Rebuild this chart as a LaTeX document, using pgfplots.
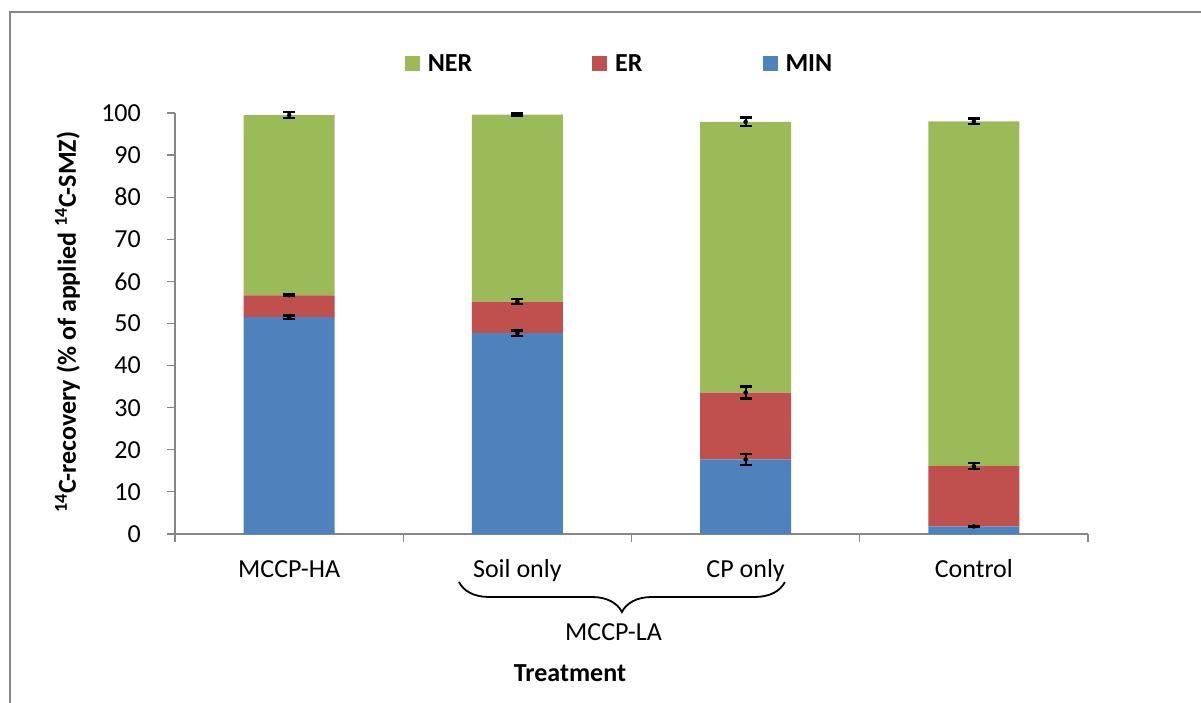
\documentclass[border=0pt]{standalone}
\usepackage{pgfplots}
\pgfplotsset{compat=1.18}
\usepackage{fontspec}
\setmainfont{Carlito}
\usetikzlibrary{decorations.pathreplacing}
\definecolor{ner}{HTML}{9BBB59}
\definecolor{er}{HTML}{C0504D}
\definecolor{minc}{HTML}{4F81BD}
\definecolor{axgray}{HTML}{868686}
\newcommand\fs{\fontsize{26bp}{31bp}\selectfont}
\begin{document}
\begin{tikzpicture}
\useasboundingbox (0bp,0bp) rectangle (1201bp,703bp);
\draw[axgray, line width=1.6bp] (10bp,-10bp) -- (10bp,691bp) -- (1215bp,691bp);
\pgfplotsset{common/.style={
  scale only axis, width=913bp, height=421bp,
  at={(175bp,169bp)}, anchor=south west,
  xmin=-0.5, xmax=3.5, ymin=0, ymax=100, clip=false,
}}
\begin{axis}[common,
  ybar stacked, bar width=91bp,
  axis x line*=bottom, axis y line*=left,
  axis line style={axgray, line width=1.2bp},
  tick style={axgray, line width=1.2bp},
  tick align=outside, major tick length=8bp, minor tick length=8bp,
  ytick={0,10,...,100},
  xtick={0,1,2,3},
  xticklabels={MCCP-HA, Soil only, CP only, Control},
  major x tick style={draw=none},
  minor xtick={-0.5,0.5,1.5,2.5,3.5},
  ticklabel style={font=\fs},
  /pgf/number format/assume math mode=true,
  yticklabel style={anchor=east, inner sep=0pt, xshift=-26bp},
  xticklabel style={anchor=base, inner sep=0pt, yshift=-35bp},
  ylabel={\textbf{\textsuperscript{14}C-recovery (\% of applied \textsuperscript{14}C-SMZ)}},
  ylabel style={font=\fs, at={(axis description cs:-0.1177,0.5036)}, anchor=center},
  xlabel={\textbf{Treatment}},
  xlabel style={font=\fs, at={(axis description cs:0.4326,-0.3508)}, anchor=base, inner sep=0pt},
  legend style={at={(axis description cs:0.4869,1.1164)}, anchor=center, draw=none, fill=none,
    font=\fs\bfseries, legend columns=3,
    /tikz/every even column/.append style={column sep=118bp}},
  legend cell align=left,
  reverse legend,
  legend image code/.code={\path[#1, draw=none] (0bp,-7.5bp) rectangle (15bp,7.5bp);},
]
\addplot[fill=minc, draw=none] coordinates {(0,51.5) (1,47.7) (2,17.7) (3,1.8)};
\addlegendentry{\hspace{6bp}MIN}
\addplot[fill=er, draw=none] coordinates {(0,5.2) (1,7.5) (2,15.9) (3,14.3)};
\addlegendentry{\hspace{6bp}ER}
\addplot[fill=ner, draw=none] coordinates {(0,42.8) (1,44.4) (2,64.3) (3,81.9)};
\addlegendentry{\hspace{6bp}NER}
\node[font=\fs, anchor=base, inner sep=0pt] at (axis description cs:0.4803,-0.2518) {MCCP-LA};
\draw[decorate, decoration={brace, mirror, amplitude=30bp}, line width=1.8bp]
  (axis description cs:0.311,-0.114) -- (axis description cs:0.668,-0.114);
\end{axis}
\begin{axis}[common, hide axis]
\addplot[only marks, mark=none, forget plot,
  error bars/.cd, y dir=both, y explicit,
  error bar style={black, line width=1.8bp},
  error mark options={black, rotate=90, mark size=6bp, line width=2.4bp}]
  coordinates {
  (0,51.5) +- (0,0.4) (0,56.7) +- (0,0.2) (0,99.5) +- (0,0.7)
  (1,47.7) +- (0,0.65) (1,55.2) +- (0,0.6) (1,99.6) +- (0,0.3)
  (2,17.7) +- (0,1.3) (2,33.6) +- (0,1.4) (2,97.9) +- (0,1.0)
  (3,1.8) +- (0,0.1) (3,16.1) +- (0,0.7) (3,98.0) +- (0,0.65)
  };
\end{axis}
\end{tikzpicture}
\end{document}
